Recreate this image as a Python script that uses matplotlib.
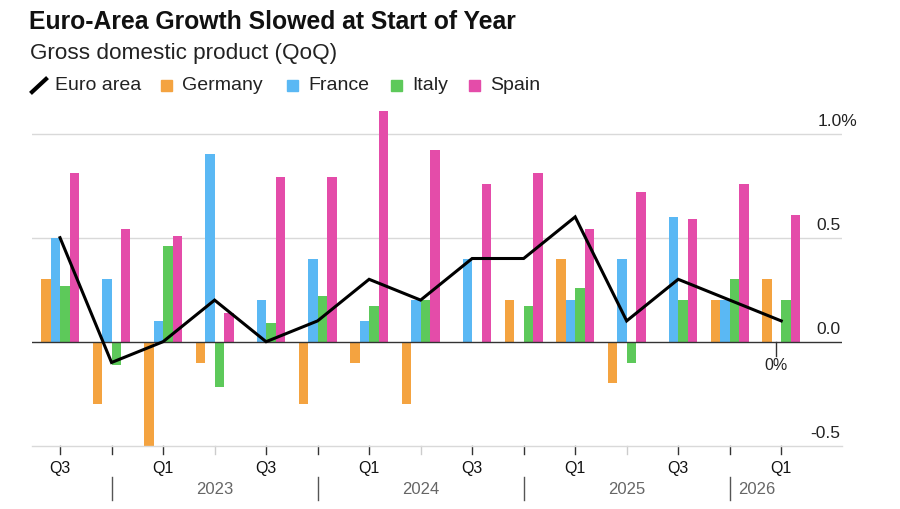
import numpy as np
import matplotlib
matplotlib.use('Agg')
import matplotlib.pyplot as plt
from matplotlib.lines import Line2D
from matplotlib.patches import Rectangle

plt.rcParams['font.family'] = ['Liberation Sans', 'DejaVu Sans']

# quarters Q3 2022 .. Q1 2026
quarters = ['Q3', 'Q4', 'Q1', 'Q2', 'Q3', 'Q4', 'Q1', 'Q2', 'Q3', 'Q4',
            'Q1', 'Q2', 'Q3', 'Q4', 'Q1']
years = ['2023', '2024', '2025', '2026']

euro_area = [0.5, -0.1, 0.0, 0.2, 0.0, 0.1, 0.3, 0.2, 0.4, 0.4, 0.6, 0.1, 0.3, 0.2, 0.1]
germany = [0.3, -0.3, -0.5, -0.1, 0.0, -0.3, -0.1, -0.3, 0.0, 0.2, 0.4, -0.2, 0.0, 0.2, 0.3]
france = [0.5, 0.3, 0.1, 0.9, 0.2, 0.4, 0.1, 0.2, 0.4, 0.0, 0.2, 0.4, 0.6, 0.2, 0.0]
italy = [0.27, -0.11, 0.46, -0.22, 0.09, 0.22, 0.17, 0.2, 0.0, 0.17, 0.26, -0.1, 0.2, 0.3, 0.2]
spain = [0.81, 0.54, 0.51, 0.14, 0.79, 0.79, 1.11, 0.92, 0.76, 0.81, 0.54, 0.72, 0.59, 0.76, 0.61]

colors = {'Germany': '#f4a340', 'France': '#5ab8f4', 'Italy': '#5dc95a', 'Spain': '#e44ca9'}

W, H = 900, 510
fig = plt.figure(figsize=(9, 5.1), dpi=100)
fig.patch.set_facecolor('white')

def fx(px):
    return px / W

def fy(py):
    return 1 - py / H

ax = fig.add_axes([fx(32), fy(446.7), fx(842) - fx(32), fy(103.5) - fy(446.7)])

x = np.arange(len(quarters))
bw = 0.184
series = [('Germany', germany), ('France', france), ('Italy', italy), ('Spain', spain)]
for i, (name, vals) in enumerate(series):
    ax.bar(x + (i - 1.5) * bw, vals, width=bw, color=colors[name], zorder=2)

ax.plot(x, euro_area, color='black', lw=2.2, zorder=4, solid_joinstyle='miter')

ax.set_xlim(-0.544, 15.18)
ax.set_ylim(-0.5, 1.15)

for v in [0.5, 1.0]:
    ax.axhline(v, color='#d9d9d9', lw=1, zorder=1)
ax.axhline(0, color='#333333', lw=1, zorder=3)

for s in ['top', 'right', 'left']:
    ax.spines[s].set_visible(False)
ax.spines['bottom'].set_color('#d9d9d9')
ax.spines['bottom'].set_linewidth(1)

ax.set_yticks([])
ax.set_xticks([])

# right side y labels
for v, lab in [(0.5, '0.5'), (0.0, '0.0'), (-0.5, '-0.5')]:
    ax.text(15.15, v + 0.025, lab, ha='right', va='bottom', fontsize=12.5, color='#222222')
ax.text(14.7, 1.025, '1.0%', ha='left', va='bottom', fontsize=12.5, color='#222222')

# tick marks
for i, q in enumerate(quarters):
    c = '#cccccc' if q == 'Q2' else '#333333'
    ax.plot([i, i], [-0.5, -0.54], color=c, lw=1, clip_on=False)
    if q in ('Q1', 'Q3'):
        ax.text(i, -0.57, q, ha='center', va='top', fontsize=11.5, color='#111111')

# year separators and labels
sep_idx = [1, 5, 9, 13]
for s in sep_idx:
    ax.plot([s, s], [-0.65, -0.76], color='#555555', lw=1, clip_on=False)
for s, yr in zip(sep_idx[:3], years[:3]):
    ax.text(s + 2, -0.705, yr, ha='center', va='center', fontsize=12, color='#666666')
ax.text(13.17, -0.705, years[3], ha='left', va='center', fontsize=12, color='#666666')

# 0% annotation for France latest
ax.plot([14 - 0.5 * bw, 14 - 0.5 * bw], [0, -0.07], color='#333333', lw=1, zorder=3)
ax.text(14 - 0.5 * bw, -0.075, '0%', ha='center', va='top', fontsize=11.5, color='#222222')

# title and subtitle
fig.text(fx(29), fy(22), 'Euro-Area Growth Slowed at Start of Year', fontsize=17.8,
         fontweight='bold', ha='left', va='center', color='#111111')
fig.text(fx(30), fy(53), 'Gross domestic product (QoQ)', fontsize=16.2,
         ha='left', va='center', color='#222222')

# legend
ly = fy(86)
fig.add_artist(Line2D([fx(32), fx(46)], [fy(93), fy(80)], color='black', lw=3,
                      transform=fig.transFigure))
fig.text(fx(55), ly, 'Euro area', fontsize=14, ha='left', va='center', color='#222222')
leg_pos = [(161, 'Germany'), (287, 'France'), (391, 'Italy'), (469, 'Spain')]
for px, name in leg_pos:
    fig.add_artist(Rectangle((fx(px), fy(92)), fx(11), 11 / H, color=colors[name],
                             transform=fig.transFigure))
    fig.text(fx(px + 21), ly, name, fontsize=14, ha='left', va='center', color='#222222')

fig.savefig('out.png', dpi=100, facecolor='white')
